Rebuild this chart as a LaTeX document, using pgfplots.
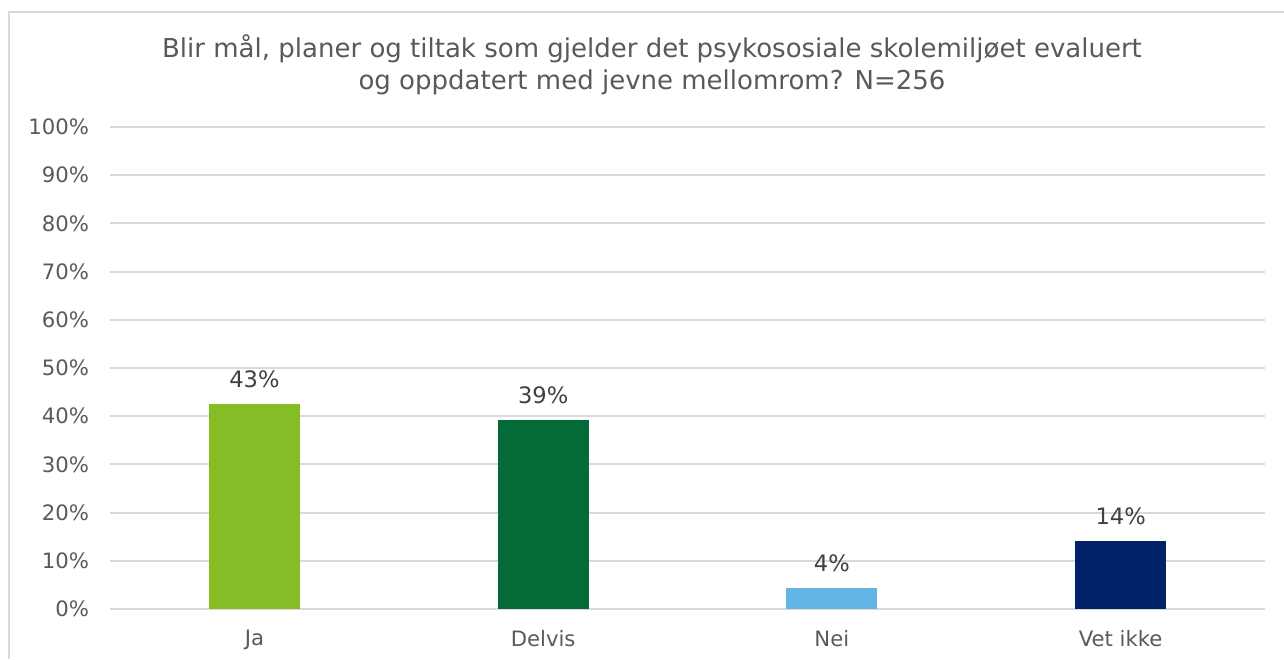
\documentclass[border=0pt]{standalone}
\usepackage{pgfplots}
\pgfplotsset{compat=1.18}
\usepackage{fontspec}
\setmainfont{DejaVu Sans}
\definecolor{cJa}{HTML}{86BC25}
\definecolor{cDelvis}{HTML}{046A38}
\definecolor{cNei}{HTML}{62B5E5}
\definecolor{cVet}{HTML}{012169}
\definecolor{gridc}{HTML}{D9D9D9}
\definecolor{txt}{HTML}{595959}
\definecolor{lbl}{HTML}{404040}
\begin{document}
\begin{tikzpicture}
\useasboundingbox (0,0) rectangle (642pt,329.5pt);
\draw[gridc, line width=0.8pt] (4.5pt,0) -- (4.5pt,323.5pt) -- (642pt,323.5pt);
\node[align=center, text=txt, font=\fontsize{13}{16}\selectfont] at (326pt,297pt)
  {Blir mål, planer og tiltak som gjelder det psykososiale skolemiljøet evaluert\\og oppdatert med jevne mellomrom? N=256};
\begin{axis}[
    at={(55pt,25pt)}, anchor=south west,
    scale only axis,
    width=577.5pt, height=241pt,
    ybar, bar width=45.5pt, bar shift=0pt,
    xmin=-0.5, xmax=3.5,
    ymin=0, ymax=100,
    xtick={0,1,2,3},
    xticklabels={Ja, Delvis, Nei, Vet ikke},
    ytick={0,10,...,100},
    yticklabel={\pgfmathprintnumber{\tick}\%},
    /pgf/number format/assume math mode=true,
    axis line style={draw=none},
    major tick length=0pt,
    ymajorgrids,
    grid style={gridc, line width=1pt},
    tick label style={text=txt, font=\fontsize{10.6}{12}\selectfont},
    yticklabel style={xshift=-7pt},
    xticklabel style={yshift=-7pt},
    nodes near coords={\pgfmathprintnumber[fixed,precision=0]{\pgfplotspointmeta}\%},
    every node near coord/.append style={text=lbl, font=\fontsize{11.3}{13}\selectfont, yshift=4.5pt},
]
\addplot[fill=cJa, draw=none] coordinates {(0,42.6)};
\addplot[fill=cDelvis, draw=none] coordinates {(1,39.2)};
\addplot[fill=cNei, draw=none] coordinates {(2,4.4)};
\addplot[fill=cVet, draw=none] coordinates {(3,14.2)};
\end{axis}
\end{tikzpicture}
\end{document}
